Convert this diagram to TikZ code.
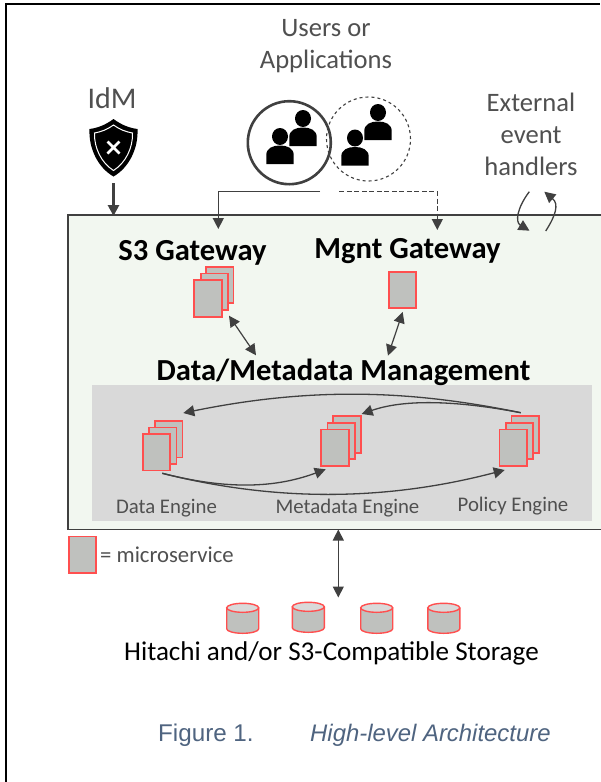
\documentclass[tikz,border=0pt]{standalone}
\usepackage{fontspec}
\setmainfont{Carlito}
\newfontfamily\captionfont{Liberation Sans}
\usepackage{tikz}
\usetikzlibrary{arrows.meta}
\definecolor{darkline}{HTML}{404040}
\definecolor{textgray}{HTML}{505050}
\definecolor{micred}{HTML}{FF4F4F}
\definecolor{micfill}{HTML}{BFC1BE}
\definecolor{boxgreen}{HTML}{F2F7F0}
\definecolor{panelgray}{HTML}{D9D9D9}
\definecolor{captionblue}{HTML}{4F6480}
\newcommand{\person}[2]{
  \fill (#1,#2+8.5) ellipse (8 and 8.5);
  \fill (#1-13.7,#2+36) -- (#1-13.7,#2+27) .. controls (#1-13.7,#2+20) and (#1-7,#2+17.5) .. (#1,#2+17.5)
    .. controls (#1+7,#2+17.5) and (#1+13.7,#2+20) .. (#1+13.7,#2+27) -- (#1+13.7,#2+36) -- cycle;
}
\newcommand{\disk}[2]{
  \draw[draw=micred,fill=micfill,line width=1.4pt] (#1-16,#2+4.5) -- (#1-16,#2+25.5) arc (180:0:16 and 4.5) -- (#1+16,#2+4.5);
  \draw[draw=micred,fill=panelgray,line width=1.4pt] (#1,#2+4.5) ellipse (16 and 4.5);
}
\begin{document}
\begin{tikzpicture}[x=1pt,y=-1pt,>={Triangle[length=11pt,width=11pt]},font=\fontsize{26.6}{32}\selectfont]
  \tikzstyle{micro}=[rectangle,draw=micred,fill=micfill,line width=1.8pt,minimum width=27.5pt,minimum height=36.5pt,inner sep=0pt]
  \tikzstyle{title}=[font=\bfseries\fontsize{30.6}{36}\selectfont,text=black,inner sep=0pt]
  \tikzstyle{label}=[text=textgray,align=center,inner sep=0pt]
  \tikzstyle{small}=[text=textgray,font=\fontsize{20.8}{25}\selectfont,inner sep=0pt]
  \tikzstyle{link}=[darkline,line width=1.2pt]
  \tikzstyle{bend link}=[darkline,line width=1.3pt]
  \useasboundingbox (0,0) rectangle (600,782);
  \fill[white] (0,0) rectangle (600,782);
  % page frame
  \draw[black,line width=2pt] (6,782) -- (6,4) -- (600,4);
  % main box
  \draw[darkline,fill=boxgreen,line width=1.5pt] (601,215) -- (68,215) -- (68,529.5) -- (601,529.5);
  \fill[panelgray] (92,385) rectangle (592,521);
  % top labels
  \node [label] (users) at (326,46) {Users or\\Applications};
  \node [label,font=\fontsize{30}{36}\selectfont] (idm) at (112,98) {IdM};
  \node [label] (handlers) at (531,134) {External\\event\\handlers};
  % shield
  \begin{scope}[shift={(113.5,119)}]
    \fill[black] (0,0) .. controls (8,6) and (16,9) .. (24,10) .. controls (25,30) and (15,49) .. (0,57.5)
      .. controls (-15,49) and (-25,30) .. (-24,10) .. controls (-16,9) and (-8,6) .. (0,0) -- cycle;
    \draw[white,line width=1pt] (0,6) .. controls (6,10.5) and (13,13) .. (19,14) .. controls (19.5,29) and (12,44) .. (0,51.5)
      .. controls (-12,44) and (-19.5,29) .. (-19,14) .. controls (-13,13) and (-6,10.5) .. (0,6) -- cycle;
    \draw[white,line width=2.8pt] (-6,22.5) -- (6,34.5) (6,22.5) -- (-6,34.5);
  \end{scope}
  % users
  \node [circle,draw=darkline,line width=2.6pt,minimum size=83pt,inner sep=0pt] (solidgroup) at (289.3,142.7) {};
  \node [circle,draw=darkline,dashed,line width=1.1pt,minimum size=84pt,inner sep=0pt] (dashgroup) at (368.5,139) {};
  \person{303}{110}
  \person{280}{128}
  \person{378}{104}
  \person{355}{129.5}
  % entry arrows
  \coordinate (idmout) at (113.5,183);
  \coordinate (idmin) at (113.5,216);
  \coordinate (solidout) at (320,191.7);
  \coordinate (solidin) at (218.3,229);
  \coordinate (dashout) at (339.3,191.7);
  \coordinate (dashin) at (437.3,230);
  \draw[->,darkline,line width=2.8pt] (idmout) -- (idmin);
  \draw[->,link,line width=1.5pt] (solidout) -| (solidin);
  \draw[->,link,line width=1.4pt,dash pattern=on 5pt off 2.5pt] (dashout) -| (dashin);
  % event arrows
  \coordinate (evA) at (529.3,191.7);
  \coordinate (evB) at (529.5,230.7);
  \coordinate (evC) at (545.7,231);
  \coordinate (evD) at (544.3,191.7);
  \draw[->,bend link] (evA) .. controls (517,208) and (515,222) .. (evB);
  \draw[->,bend link] (evC) .. controls (556,215) and (559,204) .. (evD);
  % gateways
  \node [title] (s3) at (192.5,253) {S3 Gateway};
  \node [title] (mgnt) at (407.5,251) {Mgnt Gateway};
  \node [micro] (s3c) at (219.8,285) {};
  \node [micro] (s3b) at (214.5,291.7) {};
  \node [micro] (s3a) at (208,298.5) {};
  \node [micro] (mgntm) at (402.5,290) {};
  \node [title] (dmm) at (343.5,372) {Data/Metadata Management};
  \coordinate (s3dn) at (229,315.7);
  \coordinate (dmmA) at (256,355.3);
  \coordinate (mgntdn) at (402.7,312);
  \coordinate (dmmB) at (388,355.7);
  \draw[<->,link] (s3dn) -- (dmmA);
  \draw[<->,link] (mgntdn) -- (dmmB);
  % engines
  \node [micro] (datac) at (168.7,439.3) {};
  \node [micro] (datab) at (162.8,445.7) {};
  \node [micro] (dataa) at (156.5,452.3) {};
  \node [micro] (metac) at (347,434.5) {};
  \node [micro] (metab) at (341.2,441) {};
  \node [micro] (metaa) at (334.9,447.7) {};
  \node [micro] (polc) at (525.2,434.5) {};
  \node [micro] (polb) at (519.6,441) {};
  \node [micro] (pola) at (513.2,447.7) {};
  \node [small] (dataname) at (166.5,508) {Data Engine};
  \node [small] (metaname) at (347.5,508.5) {Metadata Engine};
  \node [small] (polname) at (513,506) {Policy Engine};
  \coordinate (polout) at (520.7,412.7);
  \coordinate (datain) at (183.3,413);
  \coordinate (metain) at (361.7,414);
  \coordinate (dataout) at (162.3,473.3);
  \coordinate (metain2) at (325.7,469.3);
  \coordinate (polin) at (504.7,470);
  \draw[->,bend link] (polout) .. controls (420,392) and (320,385) .. (datain);
  \draw[->,bend link] (polout) .. controls (470,403) and (410,397) .. (metain);
  \draw[->,bend link] (dataout) .. controls (220,488) and (270,490) .. (metain2);
  \draw[->,bend link] (dataout) .. controls (280,503) and (390,500) .. (polin);
  % legend
  \node [micro] (legend) at (82.5,554.7) {};
  \node [small,anchor=west,font=\fontsize{22.7}{27}\selectfont] (legendtext) at (100,555) {= microservice};
  % storage
  \coordinate (boxdn) at (338.3,529.5);
  \coordinate (stortop) at (338.3,597.5);
  \draw[<->,link] (boxdn) -- (stortop);
  \disk{242.7}{603.3}
  \disk{308.3}{602.3}
  \disk{376.7}{603.3}
  \disk{443.8}{603.3}
  \node [text=black,inner sep=0pt,font=\fontsize{27.1}{32}\selectfont] (storage) at (331.5,653) {Hitachi and/or S3-Compatible Storage};
  % caption
  \node [anchor=west,text=captionblue,inner sep=0pt,font=\captionfont\fontsize{24.2}{28}\selectfont] (figno) at (158,735) {Figure 1.};
  \node [anchor=west,text=captionblue,inner sep=0pt,font=\captionfont\itshape\fontsize{23.9}{28}\selectfont] (figname) at (310,735) {High-level Architecture};
\end{tikzpicture}
\end{document}
